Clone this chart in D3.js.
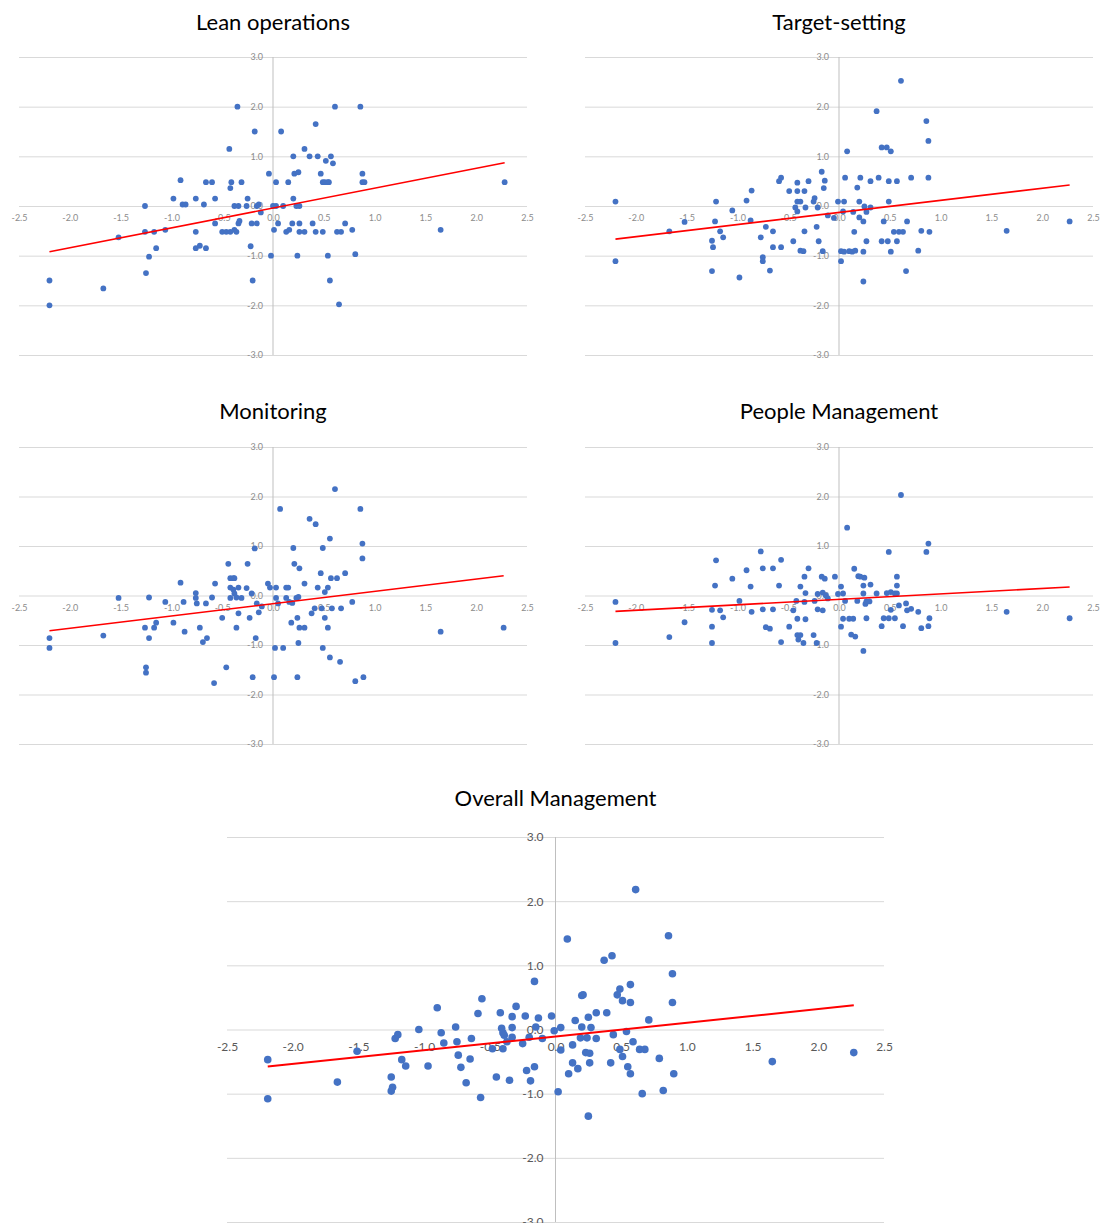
<!DOCTYPE html>
<html>
<head>
<meta charset="utf-8">
<script src="https://cdn.jsdelivr.net/npm/d3@7"></script>
<style>
  body { margin: 0; background: #fff; }
  svg { display: block; font-family: Lato, "Open Sans", sans-serif; }
</style>
</head>
<body>
<div id="chart"></div>
<script>
// ---- data ----
const titles = ["Lean operations", "Target-setting", "Monitoring", "People Management", "Overall Management"];
const xTicks = [-2.5, -2.0, -1.5, -1.0, -0.5, 0.0, 0.5, 1.0, 1.5, 2.0, 2.5];
const yTicks = [-3.0, -2.0, -1.0, 0.0, 1.0, 2.0, 3.0];

const leanX = [-2.2,-2.2,-1.67,-1.52,-1.26,-1.26,-1.25,-1.22,-1.17,-1.15,-1.06,-0.98,-0.91,-0.89,-0.86,-0.76,-0.76,-0.76,-0.72,-0.68,
  -0.66,-0.66,-0.6,-0.57,-0.57,-0.5,-0.46,-0.43,-0.42,-0.41,-0.42,-0.38,-0.38,-0.36,-0.35,-0.34,-0.34,-0.33,-0.31,-0.26,
  -0.25,-0.22,-0.21,-0.2,-0.18,-0.16,-0.16,-0.14,-0.12,-0.04,-0.02,0.0,0.01,0.03,0.03,0.05,0.08,0.1,0.13,0.15,
  0.16,0.19,0.2,0.2,0.21,0.23,0.24,0.25,0.26,0.26,0.26,0.31,0.31,0.36,0.39,0.42,0.42,0.44,0.47,0.49,
  0.49,0.52,0.51,0.54,0.54,0.55,0.56,0.57,0.59,0.61,0.63,0.65,0.67,0.71,0.78,0.81,0.86,0.88,0.88,0.9,1.65,2.28];
const leanY = [-1.5,-2.0,-1.66,-0.63,0.0,-0.52,-1.35,-1.02,-0.52,-0.85,-0.48,0.15,0.52,0.03,0.03,0.15,-0.52,-0.85,-0.8,0.03,
  -0.85,0.48,0.48,-0.35,0.15,-0.52,-0.52,1.15,-0.52,0.48,0.36,-0.48,0.0,-0.52,2.0,0.0,-0.35,-0.3,0.48,0.0,
  0.15,-0.81,-0.35,-1.5,1.5,-0.35,0.0,0.03,-0.13,0.65,-1.0,0.0,-0.48,0.48,0.0,-0.35,1.5,0.0,-0.52,0.48,
  -0.48,-0.35,0.15,1.0,0.65,0.0,-1.0,0.68,-0.35,0.0,-0.52,1.15,-0.52,1.0,-0.35,-0.52,1.65,1.0,0.65,-0.52,
  0.48,0.91,0.48,0.48,-1.0,0.48,-1.5,1.0,0.86,2.0,-0.52,-1.98,-0.52,-0.35,-0.48,-0.97,2.0,0.65,0.48,0.48,-0.48,0.48];

const targetX = [-2.2,-2.2,-1.67,-1.52,-1.25,-1.24,-1.25,-1.21,-1.22,-1.17,-1.14,-1.05,-0.98,-0.91,-0.87,-0.86,-0.77,-0.75,-0.75,-0.72,
  -0.68,-0.65,-0.65,-0.59,-0.57,-0.57,-0.49,-0.45,-0.43,-0.41,-0.41,-0.41,-0.41,-0.38,-0.38,-0.35,-0.34,-0.34,-0.33,-0.3,
  -0.25,-0.24,-0.22,-0.21,-0.2,-0.17,-0.16,-0.15,-0.14,-0.11,-0.05,-0.01,0.02,0.02,0.04,0.05,0.06,0.08,0.05,0.1,
  0.13,0.14,0.15,0.16,0.18,0.2,0.2,0.21,0.24,0.24,0.24,0.25,0.27,0.27,0.31,0.31,0.37,0.39,0.42,0.42,
  0.44,0.47,0.48,0.49,0.49,0.51,0.51,0.54,0.57,0.57,0.59,0.61,0.63,0.66,0.67,0.71,0.78,0.81,0.86,0.88,
  0.88,0.89,1.65,2.27];
const targetY = [0.09,-1.11,-0.51,-0.32,-0.7,-0.83,-1.31,0.09,-0.31,-0.51,-0.63,-0.09,-1.44,0.11,-0.29,0.31,-0.63,-1.03,-1.11,-0.42,
  -1.3,-0.51,-0.83,0.5,0.57,-0.83,0.3,-0.71,-0.03,-0.11,0.47,0.3,0.09,0.09,-0.9,-0.91,0.3,-0.51,-0.03,0.5,
  0.09,0.16,-0.42,-0.03,-0.71,0.69,-0.91,0.36,0.51,-0.19,-0.24,0.09,-1.11,-0.91,-0.11,0.09,0.57,1.1,-0.92,-0.91,
  -0.92,-0.12,-0.52,-0.9,0.37,0.09,-0.23,0.57,-0.31,-0.92,-1.52,-0.01,-0.71,-0.12,0.5,-0.03,1.91,0.57,-0.71,1.18,
  -0.31,1.18,-0.71,0.5,0.09,1.1,-0.92,-0.52,-0.71,0.5,-0.52,2.52,-0.52,-1.31,-0.31,0.57,-0.9,-0.5,1.71,1.31,
  0.57,-0.52,-0.5,-0.31];

const monitorX = [-2.2,-2.2,-1.67,-1.52,-1.26,-1.25,-1.25,-1.22,-1.22,-1.17,-1.15,-1.06,-0.98,-0.91,-0.88,-0.87,-0.76,-0.76,-0.75,-0.72,
  -0.69,-0.66,-0.65,-0.6,-0.58,-0.57,-0.5,-0.46,-0.44,-0.42,-0.42,-0.42,-0.39,-0.39,-0.38,-0.38,-0.36,-0.36,-0.34,-0.34,
  -0.31,-0.26,-0.25,-0.23,-0.21,-0.2,-0.18,-0.17,-0.16,-0.14,-0.11,-0.05,-0.03,0.01,0.02,0.03,0.03,0.07,0.05,0.1,
  0.13,0.13,0.15,0.16,0.18,0.19,0.2,0.21,0.23,0.24,0.24,0.25,0.25,0.26,0.26,0.31,0.31,0.36,0.38,0.41,
  0.42,0.44,0.47,0.48,0.49,0.49,0.51,0.51,0.54,0.54,0.56,0.56,0.57,0.58,0.61,0.63,0.66,0.67,0.71,0.78,
  0.81,0.86,0.88,0.88,0.89,1.65,2.27];
const monitorY = [-0.86,-1.06,-0.81,-0.05,-0.65,-1.45,-1.56,-0.04,-0.86,-0.65,-0.55,-0.13,-0.55,0.26,-0.13,-0.73,0.05,-0.05,-0.16,-0.65,
  -0.94,-0.16,-0.86,-0.04,-1.77,0.24,-0.45,-1.45,0.64,0.16,-0.05,0.35,0.35,0.12,0.35,0.04,-0.04,-0.65,-0.36,0.16,
  -0.05,0.15,0.64,-0.45,0.04,-1.65,0.95,-0.86,-0.16,-0.34,-0.22,0.24,0.16,-1.65,-1.06,0.16,-0.05,1.75,-0.16,-1.06,
  0.16,-0.05,0.16,-0.13,-0.55,-0.15,0.96,0.64,-0.05,-0.45,-1.65,-0.96,-0.03,-0.65,0.55,-0.65,0.24,1.55,-0.36,-0.26,
  1.44,0.16,0.45,-0.26,0.96,-1.06,-0.45,0.07,0.16,-0.65,1.15,-1.25,0.35,-0.26,2.15,0.35,-1.34,-0.26,0.45,-0.13,
  -1.73,1.75,1.05,0.75,-1.65,-0.73,-0.65];

const peopleX = [-2.2,-2.2,-1.67,-1.52,-1.25,-1.25,-1.25,-1.21,-1.22,-1.17,-1.14,-1.05,-0.98,-0.91,-0.87,-0.86,-0.77,-0.75,-0.75,-0.72,
  -0.68,-0.65,-0.65,-0.59,-0.57,-0.57,-0.49,-0.45,-0.42,-0.41,-0.41,-0.4,-0.38,-0.38,-0.35,-0.34,-0.34,-0.33,-0.33,-0.3,
  -0.25,-0.24,-0.22,-0.21,-0.21,-0.17,-0.16,-0.16,-0.14,-0.13,-0.11,-0.04,-0.01,0.02,0.02,0.04,0.04,0.06,0.08,0.1,
  0.12,0.14,0.15,0.16,0.18,0.19,0.21,0.24,0.24,0.24,0.25,0.26,0.27,0.27,0.3,0.31,0.37,0.42,0.44,0.47,
  0.49,0.49,0.51,0.51,0.55,0.55,0.57,0.57,0.57,0.59,0.61,0.63,0.66,0.67,0.71,0.78,0.81,0.86,0.88,0.88,
  0.89,1.65,2.27];
const peopleY = [-0.13,-0.96,-0.84,-0.54,-0.29,-0.63,-0.96,0.71,0.2,-0.3,-0.44,0.34,-0.11,0.51,0.18,-0.33,0.89,0.55,-0.28,-0.64,
  -0.67,-0.28,0.55,0.2,0.72,-0.94,-0.63,-0.3,-0.11,-0.47,-0.8,-0.89,0.18,-0.8,-0.96,0.38,-0.13,0.05,-0.48,0.55,
  -0.8,-0.11,-0.96,0.03,-0.28,0.38,-0.3,0.06,0.34,0.0,-0.06,0.38,0.03,-0.63,0.18,0.04,-0.47,-0.11,1.37,-0.47,
  -0.79,-0.47,0.54,-0.83,-0.11,0.39,0.38,0.04,0.2,-1.12,0.36,-0.17,-0.46,-0.12,-0.12,0.22,0.04,-0.62,-0.46,0.05,
  0.88,-0.46,0.07,-0.29,-0.46,0.04,0.38,0.2,0.04,-0.2,2.03,-0.62,-0.16,-0.3,-0.27,-0.33,-0.66,0.88,1.05,-0.62,
  -0.46,-0.33,-0.46];

const overallX = [-2.19,-2.19,-1.66,-1.51,-1.25,-1.24,-1.25,-1.22,-1.2,-1.17,-1.14,-1.04,-0.97,-0.9,-0.87,-0.85,-0.76,-0.75,-0.74,-0.72,
  -0.68,-0.65,-0.64,-0.59,-0.57,-0.56,-0.48,-0.45,-0.42,-0.41,-0.4,-0.4,-0.39,-0.37,-0.35,-0.33,-0.33,-0.33,-0.3,-0.25,
  -0.23,-0.22,-0.2,-0.19,-0.16,-0.16,-0.15,-0.13,-0.1,-0.03,-0.01,0.02,0.04,0.04,0.09,0.1,0.13,0.13,0.15,0.17,
  0.19,0.2,0.2,0.21,0.23,0.24,0.25,0.25,0.26,0.26,0.27,0.31,0.31,0.37,0.39,0.42,0.43,0.44,0.47,0.49,
  0.49,0.51,0.51,0.54,0.55,0.57,0.57,0.57,0.59,0.61,0.64,0.66,0.68,0.71,0.79,0.82,0.86,0.89,0.89,0.9,
  1.65,2.27];
const overallY = [-0.47,-1.08,-0.82,-0.34,-0.74,-0.9,-0.96,-0.14,-0.08,-0.47,-0.57,0.0,-0.57,0.34,-0.05,-0.21,0.04,-0.19,-0.4,-0.59,
  -0.83,-0.46,-0.14,0.25,-1.06,0.48,-0.3,-0.74,0.26,0.02,-0.05,-0.3,-0.09,-0.19,-0.79,0.2,0.03,-0.12,0.36,-0.22,
  0.21,-0.64,-0.12,-0.8,0.75,-0.58,0.04,0.18,-0.14,0.21,-0.02,-0.97,-0.32,0.03,1.41,-0.69,-0.52,-0.24,0.14,-0.61,
  -0.13,0.53,0.04,0.54,-0.36,-0.13,-1.35,0.19,-0.37,-0.52,0.03,-0.14,0.26,1.08,0.26,-0.52,1.15,-0.08,0.54,0.63,
  -0.31,-0.42,0.45,-0.03,-0.58,0.7,-0.69,0.42,-0.19,2.18,-0.31,-1.0,-0.31,0.15,-0.45,-0.95,1.46,0.87,0.42,-0.69,
  -0.5,-0.36];

// trend lines [slope, intercept]
const leanTrend = [0.40, -0.04];
const targetTrend = [0.244, -0.13];
const monitorTrend = [0.248, -0.165];
const peopleTrend = [0.11, -0.078];
const overallTrend = [0.214, -0.109];

// ---- layout ----
const panels = [
  { title: titles[0], xs: leanX, ys: leanY, trend: leanTrend, x0: 19, x1: 527, y0: 57, y1: 355, ty: 30, big: false },
  { title: titles[1], xs: targetX, ys: targetY, trend: targetTrend, x0: 585, x1: 1093, y0: 57, y1: 355, ty: 30, big: false },
  { title: titles[2], xs: monitorX, ys: monitorY, trend: monitorTrend, x0: 19, x1: 527, y0: 447, y1: 744, ty: 419, big: false },
  { title: titles[3], xs: peopleX, ys: peopleY, trend: peopleTrend, x0: 585, x1: 1093, y0: 447, y1: 744, ty: 419, big: false },
  { title: titles[4], xs: overallX, ys: overallY, trend: overallTrend, x0: 227, x1: 884, y0: 837, y1: 1222, ty: 806, big: true }
];

const svg = d3.select("#chart")
  .append("svg")
  .attr("width", 1105)
  .attr("height", 1223);

panels.forEach(p => {
  const g = svg.append("g");
  const w = p.x1 - p.x0;

  const x = d3.scaleLinear().domain([-2.5, 2.5]).range([p.x0, p.x1]);
  const y = d3.scaleLinear().domain([-3, 3]).range([p.y1, p.y0]);

  const fontSize = p.big ? 12 : 9;
  const tickColor = p.big ? "#595959" : "#8c8c8c";

  // horizontal gridlines
  g.append("g")
    .attr("transform", `translate(${p.x0},0)`)
    .call(d3.axisRight(y).tickValues(yTicks).tickSize(w).tickFormat(""))
    .call(a => a.select(".domain").remove())
    .call(a => a.selectAll("line").attr("stroke", "#d9d9d9").attr("stroke-width", 1));

  // vertical axis line at x = 0
  g.append("line")
    .attr("x1", x(0)).attr("x2", x(0))
    .attr("y1", y(3)).attr("y2", y(-3))
    .attr("stroke", "#bfbfbf")
    .attr("stroke-width", 1);

  // x tick labels under the 0 line
  g.append("g")
    .attr("transform", `translate(0,${y(0)})`)
    .call(d3.axisBottom(x).tickValues(xTicks).tickSize(0).tickPadding(p.big ? 13 : 9).tickFormat(d => d.toFixed(1)))
    .call(a => a.select(".domain").remove())
    .call(a => a.selectAll("text")
      .attr("fill", tickColor)
      .style("font-size", fontSize + "px")
      .style("font-family", "Lato, sans-serif"));

  // y tick labels left of the 0 line
  g.append("g")
    .attr("transform", `translate(${x(0)},0)`)
    .call(d3.axisLeft(y).tickValues(yTicks).tickSize(0).tickPadding(p.big ? 12 : 10).tickFormat(d => d.toFixed(1)))
    .call(a => a.select(".domain").remove())
    .call(a => a.selectAll("text")
      .attr("fill", tickColor)
      .style("font-size", fontSize + "px")
      .style("font-family", "Lato, sans-serif"));

  // points
  const pts = p.xs.map((v, i) => [v, p.ys[i]]);
  g.selectAll("circle")
    .data(pts)
    .join("circle")
    .attr("cx", d => x(d[0]))
    .attr("cy", d => y(d[1]))
    .attr("r", p.big ? 3.8 : 2.9)
    .attr("fill", "#4472c4");

  // linear trend line across the data range
  const ext = d3.extent(p.xs);
  const line = d3.line()
    .x(d => x(d))
    .y(d => y(p.trend[0] * d + p.trend[1]));
  g.append("path")
    .datum(ext)
    .attr("fill", "none")
    .attr("stroke", "#ff0000")
    .attr("stroke-width", p.big ? 2 : 1.6)
    .attr("d", line);

  // title
  g.append("text")
    .attr("x", (p.x0 + p.x1) / 2)
    .attr("y", p.ty)
    .attr("text-anchor", "middle")
    .style("font-size", "22px")
    .style("fill", "#000")
    .text(p.title);
});
</script>
</body>
</html>
